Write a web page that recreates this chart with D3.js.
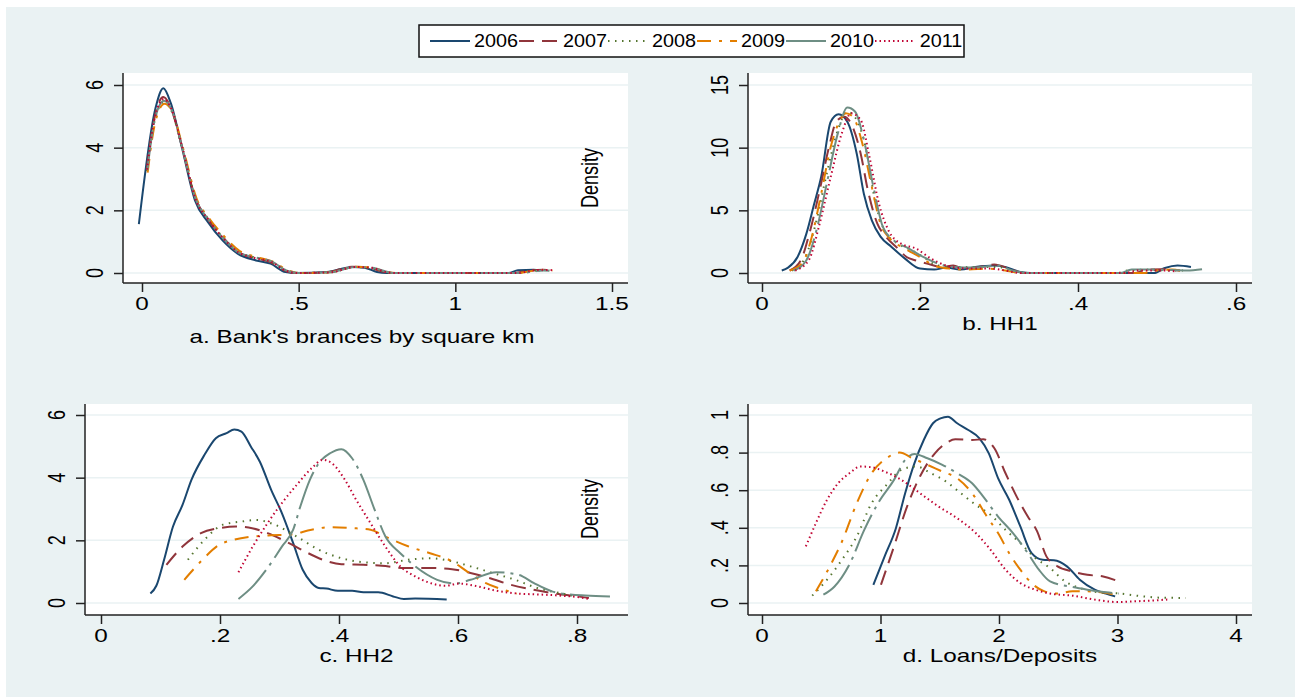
<!DOCTYPE html>
<html>
<head>
<meta charset="utf-8">
<script src="https://cdn.jsdelivr.net/npm/d3@7"></script>
<style>
  html, body { margin: 0; padding: 0; background: #fff; }
  svg { display: block; }
  text { font-family: "Liberation Sans", Arial, Helvetica, sans-serif; fill: #000; }
</style>
</head>
<body>
<script>
// ---- data ----
const years = ["2006", "2007", "2008", "2009", "2010", "2011"];
const colors = ["#1a476f", "#90353b", "#55752f", "#e37e00", "#6e8e84", "#c10534"];
const dashes = ["none", "15,8", "1.5,5.5", "14,8,3,8", "40,6,3,6", "1.5,3"];

// a. bank branches by square km
const branch2006 = [[-0.01,1.56],[0.043,5.26],[0.068,5.9],[0.092,5.42],[0.128,3.98],[0.169,2.32],[0.21,1.63],[0.257,1.04],[0.305,0.62],[0.364,0.4],[0.41,0.3],[0.458,0.03],[0.49,0],[0.59,0.03],[0.67,0.19],[0.71,0.17],[0.75,0.03],[0.78,0],[1.17,0],[1.2,0.09],[1.25,0.1],[1.27,0.08]];
const branch2007 = [[0.015,3.3],[0.04,4.95],[0.068,5.62],[0.09,5.32],[0.128,4.02],[0.17,2.4],[0.21,1.72],[0.26,1.12],[0.305,0.68],[0.36,0.48],[0.41,0.35],[0.46,0.06],[0.49,0],[0.59,0.02],[0.67,0.2],[0.72,0.18],[0.77,0.04],[0.8,0],[1.19,0],[1.23,0.07],[1.28,0.1],[1.31,0.09]];
const branch2008 = [[0.016,3.25],[0.04,4.85],[0.07,5.45],[0.092,5.22],[0.13,3.92],[0.172,2.36],[0.212,1.72],[0.262,1.1],[0.31,0.66],[0.36,0.5],[0.412,0.36],[0.462,0.08],[0.5,0],[0.6,0.02],[0.68,0.19],[0.73,0.16],[0.78,0.03],[0.81,0],[1.2,0],[1.24,0.06],[1.29,0.09],[1.3,0.08]];
const branch2009 = [[0.018,3.2],[0.042,4.8],[0.072,5.4],[0.094,5.2],[0.132,3.95],[0.174,2.38],[0.214,1.75],[0.264,1.15],[0.312,0.7],[0.362,0.52],[0.414,0.38],[0.464,0.1],[0.5,0],[0.6,0.02],[0.68,0.2],[0.735,0.17],[0.78,0.04],[0.81,0],[1.2,0],[1.25,0.07],[1.29,0.1],[1.31,0.08]];
const branch2010 = [[0.017,3.28],[0.041,4.9],[0.07,5.5],[0.093,5.25],[0.131,3.9],[0.172,2.34],[0.213,1.7],[0.262,1.08],[0.31,0.64],[0.362,0.5],[0.414,0.37],[0.463,0.07],[0.5,0],[0.6,0.02],[0.68,0.19],[0.735,0.17],[0.785,0.03],[0.81,0],[1.21,0],[1.25,0.05],[1.28,0.08],[1.3,0.07]];
const branch2011 = [[0.016,3.3],[0.04,4.92],[0.069,5.55],[0.091,5.3],[0.13,3.96],[0.171,2.36],[0.212,1.7],[0.26,1.1],[0.308,0.66],[0.36,0.48],[0.412,0.36],[0.46,0.07],[0.495,0],[0.6,0.02],[0.68,0.19],[0.73,0.17],[0.78,0.03],[0.81,0],[1.2,0],[1.24,0.07],[1.28,0.1],[1.31,0.09]];

// b. HH1
const hh1_2006 = [[0.025,0.2],[0.033,0.43],[0.045,1.28],[0.056,3.1],[0.066,5.5],[0.075,7.7],[0.087,12.07],[0.097,12.66],[0.108,12.07],[0.12,9.5],[0.129,6.3],[0.139,4.2],[0.15,2.9],[0.164,2.08],[0.181,1.15],[0.2,0.35],[0.218,0.27],[0.233,0.43],[0.251,0.27],[0.27,0.48],[0.294,0.6],[0.308,0.48],[0.327,0.08],[0.34,0],[0.496,0],[0.51,0.4],[0.526,0.6],[0.543,0.48]];
const hh1_2007 = [[0.035,0.2],[0.049,1.0],[0.061,3.4],[0.073,6.6],[0.085,10.1],[0.094,12.07],[0.104,12.47],[0.113,11.9],[0.125,9.5],[0.134,6.6],[0.146,3.94],[0.157,2.88],[0.172,1.95],[0.183,1.28],[0.195,1.0],[0.209,0.75],[0.228,0.48],[0.242,0.6],[0.256,0.35],[0.275,0.48],[0.294,0.67],[0.313,0.35],[0.331,0],[0.472,0],[0.486,0.27],[0.505,0.3],[0.529,0.2]];
const hh1_2008 = [[0.038,0.2],[0.054,1.15],[0.068,3.94],[0.082,7.94],[0.096,11.4],[0.108,12.87],[0.12,12.2],[0.132,9.8],[0.143,5.8],[0.155,3.4],[0.172,2.34],[0.19,1.8],[0.204,1.28],[0.223,0.6],[0.242,0.48],[0.27,0.48],[0.298,0.48],[0.317,0.2],[0.336,0],[0.449,0],[0.463,0.2],[0.486,0.27],[0.515,0.2],[0.533,0.2]];
const hh1_2009 = [[0.035,0.2],[0.052,0.88],[0.063,2.88],[0.075,6.34],[0.087,10.07],[0.099,12.2],[0.106,12.74],[0.115,12.47],[0.127,10.34],[0.139,6.87],[0.15,3.94],[0.162,2.74],[0.181,1.95],[0.2,1.28],[0.218,0.6],[0.237,0.35],[0.261,0.27],[0.284,0.35],[0.308,0.2],[0.327,0],[0.482,0],[0.5,0.2],[0.519,0.27],[0.533,0.13]];
const hh1_2010 = [[0.04,0.2],[0.056,1.0],[0.07,3.68],[0.082,7.14],[0.096,11.14],[0.108,13.2],[0.118,12.87],[0.129,10.6],[0.141,6.87],[0.153,3.68],[0.167,2.6],[0.186,1.95],[0.204,1.28],[0.223,0.75],[0.242,0.48],[0.27,0.43],[0.298,0.6],[0.317,0.2],[0.336,0],[0.453,0],[0.468,0.27],[0.5,0.27],[0.538,0.2],[0.557,0.3]];
const hh1_2011 = [[0.042,0.2],[0.059,1.0],[0.073,3.94],[0.087,7.67],[0.101,11.14],[0.113,12.74],[0.125,12.2],[0.136,9.27],[0.148,5.54],[0.16,3.41],[0.176,2.34],[0.195,1.95],[0.214,1.15],[0.233,0.6],[0.261,0.35],[0.289,0.35],[0.308,0.2],[0.327,0],[0.458,0],[0.477,0.2],[0.505,0.2],[0.524,0.13]];

// c. HH2
const hh2_2006 = [[0.083,0.3],[0.093,0.55],[0.106,1.38],[0.121,2.44],[0.137,3.13],[0.152,3.93],[0.174,4.73],[0.193,5.26],[0.211,5.42],[0.224,5.54],[0.236,5.47],[0.252,4.99],[0.267,4.51],[0.286,3.61],[0.304,2.87],[0.323,1.91],[0.339,1.06],[0.354,0.64],[0.366,0.48],[0.379,0.46],[0.398,0.39],[0.422,0.39],[0.441,0.34],[0.466,0.34],[0.491,0.21],[0.509,0.13],[0.528,0.14],[0.581,0.11]];
const hh2_2007 = [[0.11,1.22],[0.137,1.8],[0.168,2.23],[0.199,2.39],[0.227,2.44],[0.248,2.41],[0.28,2.23],[0.311,1.96],[0.342,1.65],[0.373,1.38],[0.404,1.24],[0.441,1.22],[0.472,1.19],[0.509,1.12],[0.553,1.12],[0.59,1.08],[0.621,0.96],[0.652,0.8],[0.689,0.58],[0.727,0.42],[0.764,0.3],[0.801,0.21],[0.82,0.16]];
const hh2_2008 = [[0.146,1.38],[0.174,2.02],[0.205,2.5],[0.236,2.6],[0.261,2.65],[0.292,2.5],[0.329,2.12],[0.366,1.7],[0.404,1.43],[0.441,1.3],[0.478,1.27],[0.516,1.38],[0.553,1.43],[0.59,1.33],[0.621,1.17],[0.658,0.96],[0.696,0.74],[0.733,0.48],[0.77,0.32],[0.801,0.21]];
const hh2_2009 = [[0.14,0.74],[0.168,1.33],[0.199,1.86],[0.224,2.02],[0.255,2.12],[0.286,2.16],[0.317,2.18],[0.354,2.34],[0.385,2.42],[0.422,2.39],[0.453,2.34],[0.478,2.12],[0.516,1.81],[0.553,1.59],[0.59,1.33],[0.615,1.01],[0.646,0.64],[0.677,0.42],[0.699,0.3]];
const hh2_2010 = [[0.231,0.13],[0.255,0.53],[0.28,1.12],[0.304,1.8],[0.323,2.34],[0.335,3.08],[0.351,3.93],[0.366,4.46],[0.385,4.78],[0.404,4.91],[0.422,4.62],[0.441,3.93],[0.46,2.97],[0.478,2.12],[0.503,1.59],[0.528,1.17],[0.565,0.74],[0.596,0.62],[0.621,0.74],[0.665,0.98],[0.702,0.9],[0.727,0.64],[0.758,0.37],[0.789,0.27],[0.814,0.24],[0.857,0.21]];
const hh2_2011 = [[0.231,0.98],[0.255,1.8],[0.28,2.55],[0.304,3.19],[0.329,3.77],[0.354,4.3],[0.373,4.57],[0.388,4.46],[0.41,3.93],[0.429,3.29],[0.453,2.55],[0.478,1.8],[0.503,1.17],[0.528,0.85],[0.553,0.64],[0.578,0.55],[0.602,0.62],[0.633,0.53],[0.665,0.39],[0.702,0.3],[0.739,0.27],[0.776,0.23],[0.801,0.19],[0.821,0.13]];

// d. loans / deposits
const ld2006 = [[0.94,0.097],[1.035,0.248],[1.13,0.398],[1.208,0.584],[1.286,0.743],[1.365,0.867],[1.443,0.956],[1.506,0.982],[1.569,0.991],[1.647,0.956],[1.741,0.92],[1.835,0.876],[1.914,0.796],[1.992,0.664],[2.086,0.549],[2.18,0.407],[2.275,0.265],[2.369,0.23],[2.463,0.227],[2.573,0.195],[2.682,0.124],[2.808,0.071],[2.902,0.05],[2.98,0.035]];
const ld2007 = [[1.004,0.097],[1.114,0.301],[1.224,0.513],[1.333,0.673],[1.459,0.796],[1.553,0.85],[1.631,0.871],[1.773,0.867],[1.867,0.871],[1.961,0.823],[2.055,0.69],[2.149,0.566],[2.243,0.46],[2.322,0.381],[2.4,0.248],[2.494,0.195],[2.62,0.168],[2.745,0.15],[2.871,0.142],[3.012,0.115]];
const ld2008 = [[0.424,0.039],[0.549,0.124],[0.675,0.23],[0.8,0.354],[0.925,0.531],[1.051,0.628],[1.176,0.708],[1.302,0.726],[1.427,0.69],[1.553,0.646],[1.678,0.584],[1.804,0.522],[1.929,0.469],[2.055,0.389],[2.18,0.319],[2.306,0.239],[2.431,0.186],[2.557,0.115],[2.682,0.08],[2.839,0.057],[3.027,0.05],[3.216,0.035],[3.373,0.028],[3.576,0.027]];
const ld2009 = [[0.455,0.062],[0.58,0.204],[0.675,0.327],[0.8,0.531],[0.925,0.69],[1.051,0.77],[1.161,0.8],[1.27,0.77],[1.396,0.735],[1.522,0.699],[1.647,0.664],[1.773,0.584],[1.898,0.46],[1.992,0.372],[2.086,0.265],[2.18,0.177],[2.29,0.097],[2.384,0.062],[2.494,0.05],[2.62,0.062],[2.745,0.062],[2.871,0.057],[3.012,0.039]];
const ld2010 = [[0.518,0.044],[0.612,0.088],[0.737,0.204],[0.863,0.389],[0.988,0.54],[1.114,0.655],[1.208,0.761],[1.286,0.793],[1.396,0.77],[1.522,0.735],[1.647,0.69],[1.773,0.637],[1.867,0.566],[1.992,0.46],[2.118,0.372],[2.243,0.265],[2.337,0.177],[2.431,0.115],[2.62,0.085],[2.745,0.071],[2.902,0.057],[3.012,0.05]];
const ld2011 = [[0.37,0.301],[0.455,0.425],[0.549,0.549],[0.643,0.637],[0.737,0.69],[0.831,0.726],[0.925,0.722],[1.035,0.699],[1.176,0.655],[1.333,0.584],[1.49,0.513],[1.647,0.451],[1.804,0.372],[1.929,0.283],[2.055,0.177],[2.18,0.106],[2.306,0.071],[2.431,0.05],[2.62,0.039],[2.808,0.018],[2.996,0.005],[3.153,0.009],[3.31,0.014],[3.42,0.018]];

const branchXTicks = [0, 0.5, 1, 1.5], branchYTicks = [0, 2, 4, 6];
const hh1XTicks = [0, 0.2, 0.4, 0.6], hh1YTicks = [0, 5, 10, 15];
const hh2XTicks = [0, 0.2, 0.4, 0.6, 0.8], hh2YTicks = [0, 2, 4, 6];
const ldXTicks = [0, 1, 2, 3, 4], ldYTicks = [0, 0.2, 0.4, 0.6, 0.8, 1];

// ---- layout ----
const W = 1295, H = 697;
const BG = "#eaf2f3";
const SX = 1.35; // the picture is stretched sideways

const panels = [
  { series: [branch2006, branch2007, branch2008, branch2009, branch2010, branch2011],
    xTicks: branchXTicks, yTicks: branchYTicks,
    box: [123, 628, 73, 283], xr: [142, 612], yr: [273, 85],
    title: "a. Bank's brances by square km", titleX: 362, titleY: 337, density: [590, 178] },
  { series: [hh1_2006, hh1_2007, hh1_2008, hh1_2009, hh1_2010, hh1_2011],
    xTicks: hh1XTicks, yTicks: hh1YTicks,
    box: [748, 1252, 73, 283], xr: [762, 1236], yr: [273, 85],
    title: "b. HH1", titleY: 324 },
  { series: [hh2_2006, hh2_2007, hh2_2008, hh2_2009, hh2_2010, hh2_2011],
    xTicks: hh2XTicks, yTicks: hh2YTicks,
    box: [85, 628, 404, 615], xr: [101, 577], yr: [603, 415],
    title: "c. HH2", titleY: 656, density: [590, 509] },
  { series: [ld2006, ld2007, ld2008, ld2009, ld2010, ld2011],
    xTicks: ldXTicks, yTicks: ldYTicks,
    box: [748, 1252, 404, 615], xr: [762, 1236], yr: [603, 415],
    title: "d. Loans/Deposits", titleY: 656 }
];

const fmt = v => String(v).replace(/^0\./, ".");

const svg = d3.select(document.body).append("svg")
  .attr("width", W)
  .attr("height", H);

svg.append("rect").attr("width", W).attr("height", H).attr("fill", "#fff");
svg.append("rect").attr("x", 6).attr("y", 7).attr("width", W - 6).attr("height", H - 7).attr("fill", BG);

// stretched text helper
const label = (g, x, y, str, size, rot) => g.append("text")
  .attr("transform", `translate(${x},${y}) scale(${SX},1)${rot ? " rotate(-90)" : ""}`)
  .attr("text-anchor", "middle")
  .attr("dominant-baseline", "central")
  .attr("font-size", size)
  .text(str);

panels.forEach(p => {
  const [left, right, top, bottom] = p.box;
  const x = d3.scaleLinear()
    .domain([p.xTicks[0], p.xTicks[p.xTicks.length - 1]])
    .range(p.xr);
  const y = d3.scaleLinear()
    .domain([p.yTicks[0], p.yTicks[p.yTicks.length - 1]])
    .range(p.yr);

  const g = svg.append("g");

  // plot region + grid
  g.append("rect")
    .attr("x", left).attr("y", top)
    .attr("width", right - left).attr("height", bottom - top)
    .attr("fill", "#fff");
  g.append("g")
    .selectAll("line")
    .data(p.yTicks)
    .join("line")
      .attr("x1", left).attr("x2", right)
      .attr("y1", d => y(d)).attr("y2", d => y(d))
      .attr("stroke", BG).attr("stroke-width", 1.5);

  // axes
  const yAxis = g.append("g")
    .attr("transform", `translate(${left},0)`)
    .call(d3.axisLeft(y).tickValues(p.yTicks).tickSize(9).tickFormat(""));
  yAxis.select(".domain").attr("d", `M0,${top}V${bottom}`);
  const xAxis = g.append("g")
    .attr("transform", `translate(0,${bottom})`)
    .call(d3.axisBottom(x).tickValues(p.xTicks).tickSize(9).tickFormat(""));
  xAxis.select(".domain").attr("d", `M${left},0H${right}`);
  g.selectAll(".domain, .tick line").attr("stroke", "#222").attr("stroke-width", 1.5);

  p.yTicks.forEach(t => label(g, left - 28, y(t), fmt(t), 18, true));
  p.xTicks.forEach(t => label(g, x(t), bottom + 21, fmt(t), 18, false));

  label(g, p.titleX || (left + right) / 2, p.titleY, p.title, 18, false);
  if (p.density) label(g, p.density[0], p.density[1], "Density", 18, true);

  // density curves
  const line = d3.line()
    .x(d => x(d[0]))
    .y(d => y(d[1]))
    .curve(d3.curveMonotoneX);

  g.append("g")
    .selectAll("path")
    .data(p.series)
    .join("path")
      .attr("d", line)
      .attr("fill", "none")
      .attr("stroke", (d, i) => colors[i])
      .attr("stroke-width", 2)
      .attr("stroke-dasharray", (d, i) => dashes[i]);
});

// legend
const lg = svg.append("g");
lg.append("rect")
  .attr("x", 419).attr("y", 25)
  .attr("width", 545).attr("height", 32)
  .attr("fill", "#fff")
  .attr("stroke", "#111").attr("stroke-width", 1.5);

const item = lg.selectAll("g.item")
  .data(years)
  .join("g")
    .attr("class", "item")
    .attr("transform", (d, i) => `translate(${430 + i * 89},41)`);
item.append("line")
  .attr("x1", 0).attr("x2", 40)
  .attr("stroke", (d, i) => colors[i])
  .attr("stroke-width", 2)
  .attr("stroke-dasharray", (d, i) => dashes[i]);
item.append("text")
  .attr("transform", "translate(66,0) scale(1.1,1)")
  .attr("text-anchor", "middle")
  .attr("dominant-baseline", "central")
  .attr("font-size", 18)
  .text(d => d);
</script>
</body>
</html>
